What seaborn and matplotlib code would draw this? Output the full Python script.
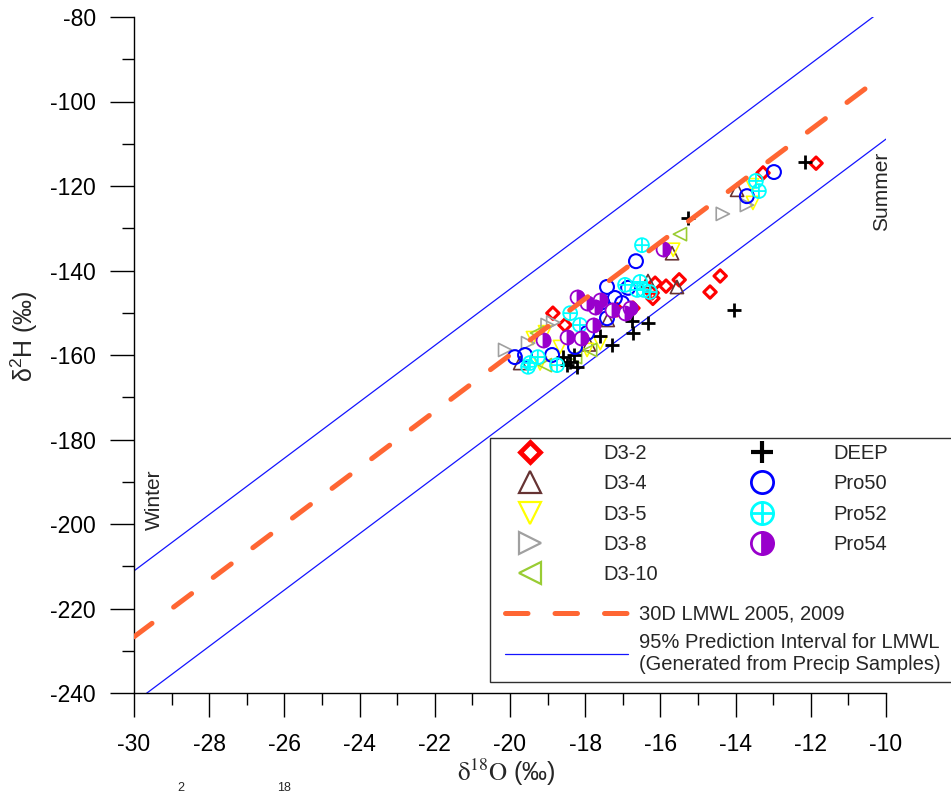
import numpy as np
import matplotlib
matplotlib.use("Agg")
import matplotlib.pyplot as plt
import seaborn as sns
from matplotlib.path import Path
from matplotlib.markers import MarkerStyle
from matplotlib.lines import Line2D
from matplotlib.patches import Rectangle

# ---------------- data ----------------
d3_2_x = [-11.86, -13.27, -14.41, -14.68, -15.50, -15.85, -16.14, -16.22, -16.20, -16.73, -17.15, -18.86, -18.54]
d3_2_y = [-114.6, -116.9, -141.3, -145.1, -142.2, -143.7, -143.0, -145.3, -146.6, -148.9, -149.3, -150.1, -152.9]

d3_4_x = [-13.96, -15.69, -15.56, -16.33, -17.40, -19.73, -17.90]
d3_4_y = [-120.9, -135.9, -143.9, -142.5, -151.7, -161.9, -157.5]

d3_5_x = [-13.54, -13.56, -15.66, -19.39, -17.95, -18.67, -19.07, -17.60, -19.20]
d3_5_y = [-124.0, -119.8, -135.1, -156.0, -158.8, -158.1, -154.6, -157.2, -162.0]

d3_8_x = [-13.70, -14.34, -20.13, -19.52, -19.00, -18.85]
d3_8_y = [-124.5, -126.6, -158.8, -157.2, -152.9, -152.3]

d3_10_x = [-15.48, -19.28, -19.07, -18.27, -17.87]
d3_10_y = [-131.4, -154.8, -162.4, -160.5, -158.8]

deep_x = [-12.15, -15.27, -14.04, -16.76, -16.33, -16.73, -17.29, -17.60, -18.59, -18.40, -18.22, -18.48, -18.30]
deep_y = [-114.3, -127.6, -149.3, -151.9, -152.4, -154.8, -157.6, -155.5, -160.5, -161.7, -162.8, -162.4, -160.0]

pro50_x = [-12.98, -13.70, -16.65, -16.86, -17.42, -17.55, -17.02, -17.21, -17.42, -17.95, -18.27, -18.88, -19.60, -19.87]
pro50_y = [-116.7, -122.4, -137.8, -144.1, -143.9, -147.5, -147.7, -146.5, -151.3, -154.8, -158.1, -160.0, -160.0, -160.5]

pro52_x = [-13.46, -13.38, -16.49, -16.54, -16.94, -16.44, -16.28, -18.40, -18.14, -19.52, -19.26, -18.75, -19.47, -16.62]
pro52_y = [-118.8, -121.2, -134.0, -142.7, -143.4, -144.6, -145.1, -150.1, -152.9, -162.8, -160.5, -162.4, -161.9, -144.6]

pro54_x = [-15.93, -18.22, -17.95, -17.61, -17.29, -16.94, -18.48, -17.79, -19.12, -16.81, -17.74, -18.10]
pro54_y = [-134.9, -146.3, -147.7, -147.0, -149.3, -150.0, -155.7, -152.9, -156.5, -148.9, -148.6, -156.0]

# LMWL and its 95% prediction interval
lmwl_slope = 6.67
lmwl_intercept = -26.6
pi_half_width = 15.6
line_x = [-30, -10]

series_labels = ["D3-2", "D3-4", "D3-5", "D3-8", "D3-10", "DEEP", "Pro50", "Pro52", "Pro54"]
line_labels = ["30D LMWL 2005, 2009",
               "95% Prediction Interval for LMWL\n(Generated from Precip Samples)"]
x_ticks = [-30, -28, -26, -24, -22, -20, -18, -16, -14, -12, -10]
y_ticks = [-240, -220, -200, -180, -160, -140, -120, -100, -80]

# ---------------- style ----------------
sns.set_theme(style="ticks")
plt.rcParams["font.family"] = ["Liberation Sans", "DejaVu Sans"]
plt.rcParams["mathtext.fontset"] = "stix"
plt.rcParams["mathtext.rm"] = "Liberation Sans"
plt.rcParams["mathtext.it"] = "Liberation Sans"
plt.rcParams["mathtext.bf"] = "Liberation Sans:bold"
plt.rcParams["mathtext.sf"] = "Liberation Sans"

W, H = 951, 795
fig = plt.figure(figsize=(W / 100, H / 100), dpi=100)
fig.patch.set_facecolor("white")
ax = fig.add_axes([134 / W, 1 - 693 / H, 752 / W, 676 / H])
ax.set_facecolor("white")

C_RED = "#FF0000"
C_BROWN = "#663333"
C_YELLOW = "#FFFF00"
C_GRAY = "#A0A0A0"
C_GREEN = "#99CC33"
C_BLACK = "#000000"
C_BLUE = "#0000FF"
C_CYAN = "#00FFFF"
C_PURPLE = "#9900CC"
C_ORANGE = "#FF6633"
C_PI = "#1414FF"

# circle-with-plus marker
circ = Path.unit_circle()
cross = Path([[-1, 0], [1, 0], [0, -1], [0, 1]],
             [Path.MOVETO, Path.LINETO, Path.MOVETO, Path.LINETO])
oplus = Path.make_compound_path(circ, cross)
half_right = MarkerStyle("o", fillstyle="right")

# ---------------- lines ----------------
lx = np.array(line_x, dtype=float)
ax.plot(lx, lmwl_slope * lx + lmwl_intercept + pi_half_width, color=C_PI, lw=0.9, zorder=1)
ax.plot(lx, lmwl_slope * lx + lmwl_intercept - pi_half_width, color=C_PI, lw=0.9, zorder=1)

# ---------------- points ----------------
def scat(x, y, marker, s, fc, ec, lw, z):
    sns.scatterplot(x=x, y=y, marker=marker, s=s, facecolor=fc, edgecolor=ec,
                    linewidth=lw, ax=ax, zorder=z, legend=False)

scat(d3_2_x, d3_2_y, "D", 40, "none", C_RED, 2.2, 3)
scat(d3_4_x, d3_4_y, "^", 90, "none", C_BROWN, 1.2, 3)
scat(d3_5_x, d3_5_y, "v", 90, "none", C_YELLOW, 1.2, 3)
scat(d3_8_x, d3_8_y, ">", 90, "none", C_GRAY, 1.2, 3)
scat(d3_10_x, d3_10_y, "<", 90, "none", C_GREEN, 1.2, 3)
sns.scatterplot(x=deep_x, y=deep_y, marker="+", s=90, color=C_BLACK, linewidth=2.0,
                ax=ax, zorder=3, legend=False)
scat(pro50_x, pro50_y, "o", 100, "none", C_BLUE, 1.5, 3)
scat(pro52_x, pro52_y, oplus, 100, "none", C_CYAN, 1.3, 3)
scat(pro54_x, pro54_y, "o", 100, "white", C_PURPLE, 1.3, 3)
scat(pro54_x, pro54_y, half_right, 100, C_PURPLE, C_PURPLE, 1.3, 3)

ax.plot(lx, lmwl_slope * lx + lmwl_intercept, color=C_ORANGE, lw=3.6,
        dashes=(4.5, 5.4), dash_capstyle="round", zorder=4)

# ---------------- axes ----------------
ax.set_xlim(-30, -10)
ax.set_ylim(-240, -80)
ax.set_xticks(x_ticks)
ax.set_yticks(y_ticks)
ax.set_xticklabels([str(t) for t in x_ticks])
ax.set_yticklabels([str(t) for t in y_ticks])
ax.set_xticks(np.arange(-29, -10, 2), minor=True)
ax.set_yticks(np.arange(-230, -80, 20), minor=True)
for side in ["top", "right"]:
    ax.spines[side].set_visible(False)
for side in ["left", "bottom"]:
    ax.spines[side].set_linewidth(1.0)
    ax.spines[side].set_color("black")
ax.tick_params(axis="both", which="major", direction="out", length=17.5, width=1.0,
               color="black", labelsize=16.5, labelcolor="black")
ax.tick_params(axis="both", which="minor", direction="out", length=8.7, width=1.0, color="black")
ax.tick_params(axis="y", which="major", pad=10)
ax.tick_params(axis="x", which="major", pad=11)
ax.grid(False)

xl = ax.set_xlabel(r"$\mathrm{\delta^{18}O}$ (‰)", fontsize=18)
xl.set_math_fontfamily("stix")
ax.xaxis.set_label_coords((506 - 134) / 752, (693 - 757) / 676)
yl = ax.set_ylabel(r"$\mathregular{\delta^{2}H}$ (‰)", fontsize=18)
yl.set_math_fontfamily("custom")
ax.yaxis.set_label_coords((40 - 134) / 752, (693 - 336) / 676)

fig.text(882 / W, 1 - 191 / H, "Summer", rotation=90, fontsize=15, ha="center", va="center")
fig.text(154 / W, 1 - 500 / H, "Winter", rotation=90, fontsize=15, ha="center", va="center")

# caption superscripts peeking in at the bottom edge
fig.text(181 / W, 1 - 794 / H, "2", fontsize=9, ha="center", va="bottom")
fig.text(284 / W, 1 - 794 / H, "18", fontsize=9, ha="center", va="bottom")

# ---------------- legend ----------------
frame = Rectangle((490 / W, 1 - 682 / H), 480 / W, (682 - 438) / H, transform=fig.transFigure,
                  facecolor="white", edgecolor="#303030", lw=1.0, zorder=4)
fig.add_artist(frame)

hs = [
    Line2D([], [], ls="none", marker="D", ms=10.5, mfc="none", mec=C_RED, mew=3.4),
    Line2D([], [], ls="none", marker="^", ms=16, mfc="none", mec=C_BROWN, mew=1.6),
    Line2D([], [], ls="none", marker="v", ms=16, mfc="none", mec=C_YELLOW, mew=1.6),
    Line2D([], [], ls="none", marker=">", ms=16, mfc="none", mec=C_GRAY, mew=1.6),
    Line2D([], [], ls="none", marker="<", ms=16, mfc="none", mec=C_GREEN, mew=1.6),
    Line2D([], [], ls="none", marker="+", ms=16, mec=C_BLACK, mew=3.0),
    Line2D([], [], ls="none", marker="o", ms=16, mfc="none", mec=C_BLUE, mew=2.0),
    Line2D([], [], ls="none", marker=oplus, ms=16, mfc="none", mec=C_CYAN, mew=2.0),
    Line2D([], [], ls="none", marker="o", ms=16, fillstyle="right", mfc=C_PURPLE,
           mfcalt="white", mec=C_PURPLE, mew=2.0),
]
leg_kw = dict(frameon=False, fontsize=14.5, borderpad=0, borderaxespad=0,
              labelspacing=0.56, handlelength=2.0, handleheight=0.7, loc="upper left",
              bbox_transform=fig.transFigure)
legA = fig.legend(handles=hs[:5], labels=series_labels[:5], handletextpad=2.65,
                  bbox_to_anchor=(510 / W, 1 - 444 / H), **leg_kw)
legB = fig.legend(handles=hs[5:], labels=series_labels[5:], handletextpad=2.55,
                  bbox_to_anchor=(742 / W, 1 - 444 / H), **leg_kw)
lh = [Line2D([], [], color=C_ORANGE, lw=3.6, dashes=(4.5, 5.4), dash_capstyle="round"),
      Line2D([], [], color=C_PI, lw=0.9)]
leg_kw2 = dict(leg_kw)
leg_kw2.update(handlelength=6.1, labelspacing=0.45)
legC = fig.legend(handles=lh, labels=line_labels, handletextpad=0.55,
                  bbox_to_anchor=(505 / W, 1 - 605 / H), **leg_kw2)
for lg in (legA, legB, legC):
    lg.set_zorder(5)

fig.savefig("out.png", dpi=100, facecolor="white")
